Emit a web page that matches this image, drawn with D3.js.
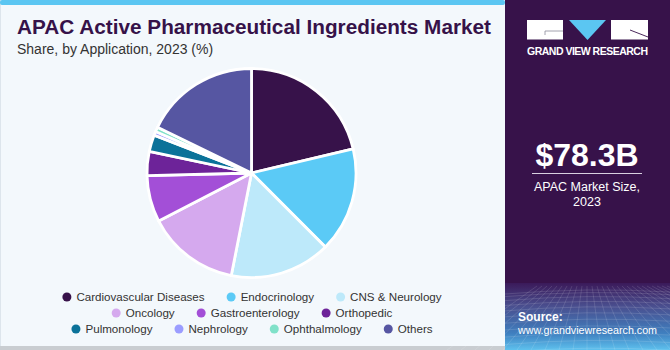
<!DOCTYPE html>
<html>
<head>
<meta charset="utf-8">
<script src="https://cdn.jsdelivr.net/npm/d3@7"></script>
<style>
  html, body { margin: 0; padding: 0; background: #ffffff; }
  svg { display: block; }
  text { font-family: "Liberation Sans", Arial, sans-serif; }
</style>
</head>
<body>
<svg id="chart" width="670" height="350"></svg>
<script>
// Application segments and their 2023 share (%)
const categories = [
  "Cardiovascular Diseases", "Endocrinology", "CNS & Neurology",
  "Oncology", "Gastroenterology", "Orthopedic",
  "Pulmonology", "Nephrology", "Ophthalmology", "Others"
];
const shares = [21.3, 16.2, 15.6, 14.3, 7.2, 3.7, 2.6, 0.6, 0.7, 17.8];
const colors = [
  "#37124a", "#5bcaf6", "#bde9fa", "#d5a9ee", "#a34fd7",
  "#6d2399", "#0b7299", "#9b9dff", "#80e1c9", "#5656a2"
];
const legendRows = [[0, 1, 2], [3, 4, 5], [6, 7, 8, 9]];
const titleText = "APAC Active Pharmaceutical Ingredients Market";
const subtitleText = "Share, by Application, 2023 (%)";
const marketSize = "$78.3B";
const marketLabel = ["APAC Market Size,", "2023"];

const svg = d3.select("#chart");
const W = 670, H = 350, panelX = 505;

// ---- left panel background ----
svg.append("rect").attr("x", 0).attr("y", 0).attr("width", panelX).attr("height", H)
  .attr("fill", "#f3f8fc");
svg.append("rect").attr("x", 0).attr("y", 0).attr("width", 1).attr("height", H)
  .attr("fill", "#dde5ec");
svg.append("rect").attr("x", 0).attr("y", 346).attr("width", panelX).attr("height", 4)
  .attr("fill", "#c9cdd1");
svg.append("rect").attr("x", 0).attr("y", 0).attr("width", panelX).attr("height", 5)
  .attr("rx", 2).attr("fill", "#5bc6f2");

// ---- titles ----
svg.append("text").attr("x", 17).attr("y", 34)
  .attr("font-size", 20).attr("font-weight", "bold").attr("fill", "#361249")
  .attr("textLength", 474).attr("lengthAdjust", "spacingAndGlyphs")
  .text(titleText);
svg.append("text").attr("x", 17).attr("y", 54)
  .attr("font-size", 14).attr("fill", "#333333")
  .text(subtitleText);

// ---- pie ----
const cx = 251.5, cy = 173, radius = 104.5;
const pie = d3.pie().value(d => d).sort(null);
const arc = d3.arc().innerRadius(0).outerRadius(radius);
const g = svg.append("g").attr("transform", `translate(${cx},${cy})`);
g.selectAll("path").data(pie(shares)).join("path")
  .attr("d", arc)
  .attr("fill", (d, i) => colors[i])
  .attr("stroke", "#ffffff").attr("stroke-width", 2.8).attr("stroke-linejoin", "round");

// ---- legend ----
const legendY = [297, 313, 329];
const legendCenter = 252;
const legendGap = 22;
legendRows.forEach((row, r) => {
  const lg = svg.append("g");
  let x = 0;
  row.forEach((idx) => {
    const item = lg.append("g").attr("transform", `translate(${x},0)`);
    item.append("circle").attr("cx", 4.5).attr("cy", 0).attr("r", 4.5).attr("fill", colors[idx]);
    const t = item.append("text").attr("x", 14).attr("y", 4.3)
      .attr("font-size", 11.6).attr("fill", "#333333").text(categories[idx]);
    x += 14 + t.node().getComputedTextLength() + legendGap;
  });
  const total = x - legendGap;
  lg.attr("transform", `translate(${legendCenter - total / 2},${legendY[r]})`);
});

// ---- right panel ----
const defs = svg.append("defs");
const grad = defs.append("linearGradient").attr("id", "foot").attr("x1", 0).attr("y1", 0).attr("x2", 0).attr("y2", 1);
grad.append("stop").attr("offset", "0%").attr("stop-color", "#3b1a5a");
grad.append("stop").attr("offset", "35%").attr("stop-color", "#4a4f8f");
grad.append("stop").attr("offset", "75%").attr("stop-color", "#3f7fbf");
grad.append("stop").attr("offset", "100%").attr("stop-color", "#5ec1ee");

svg.append("rect").attr("x", panelX).attr("y", 0).attr("width", W - panelX).attr("height", H)
  .attr("fill", "#37124a");
svg.append("rect").attr("x", panelX).attr("y", 283).attr("width", W - panelX).attr("height", H - 283)
  .attr("fill", "url(#foot)");

// perspective mesh in the footer
const mesh = svg.append("g").attr("stroke", "#ffffff").attr("stroke-opacity", 0.16).attr("stroke-width", 0.8).attr("fill", "none");
for (let i = 0; i < 14; i++) {
  const y = 290 + Math.pow(i, 1.35) * 2.6;
  mesh.append("path").attr("d", `M${panelX},${y + 4} Q${panelX + 82},${y - 3} ${W},${y + 2}`);
}
for (let i = -10; i <= 22; i++) {
  const xTop = panelX + 82 + i * 5;
  const xBot = panelX + 82 + i * 14;
  mesh.append("line").attr("x1", xTop).attr("y1", 286).attr("x2", xBot).attr("y2", H);
}

// logo
const logo = svg.append("g");
logo.append("rect").attr("x", 527).attr("y", 20).attr("width", 36).attr("height", 19.5).attr("fill", "#ffffff");
logo.append("path").attr("d", "M545,31 H563 M545,31 V35").attr("stroke", "#8a8a9a").attr("stroke-width", 0.8).attr("fill", "none");
logo.append("path").attr("d", "M569,20 H606 L587.5,40 Z").attr("fill", "#5bc6f2");
logo.append("rect").attr("x", 611).attr("y", 20).attr("width", 37).attr("height", 19.5).attr("fill", "#ffffff");
logo.append("path").attr("d", "M630,30 L648,37").attr("stroke", "#37124a").attr("stroke-width", 0.9).attr("fill", "none");
logo.append("text").attr("x", 527).attr("y", 55)
  .attr("font-size", 10.5).attr("font-weight", "bold").attr("fill", "#ffffff")
  .attr("textLength", 121).attr("lengthAdjust", "spacing")
  .text("GRAND VIEW RESEARCH");

// market size
svg.append("text").attr("x", 587).attr("y", 166).attr("text-anchor", "middle")
  .attr("font-size", 32).attr("font-weight", "bold").attr("fill", "#ffffff")
  .text(marketSize);
svg.append("line").attr("x1", 532).attr("x2", 642).attr("y1", 173.5).attr("y2", 173.5)
  .attr("stroke", "#d9d0e0").attr("stroke-width", 1);
marketLabel.forEach((s, i) => {
  svg.append("text").attr("x", 587).attr("y", 191 + i * 15).attr("text-anchor", "middle")
    .attr("font-size", 12.5).attr("fill", "#ffffff").text(s);
});

// source
svg.append("text").attr("x", 518).attr("y", 321).attr("font-size", 12).attr("font-weight", "bold")
  .attr("fill", "#ffffff").text("Source:");
svg.append("text").attr("x", 518).attr("y", 334).attr("font-size", 11.5)
  .attr("fill", "#ffffff").attr("textLength", 139).attr("lengthAdjust", "spacingAndGlyphs")
  .text("www.grandviewresearch.com");
</script>
</body>
</html>
